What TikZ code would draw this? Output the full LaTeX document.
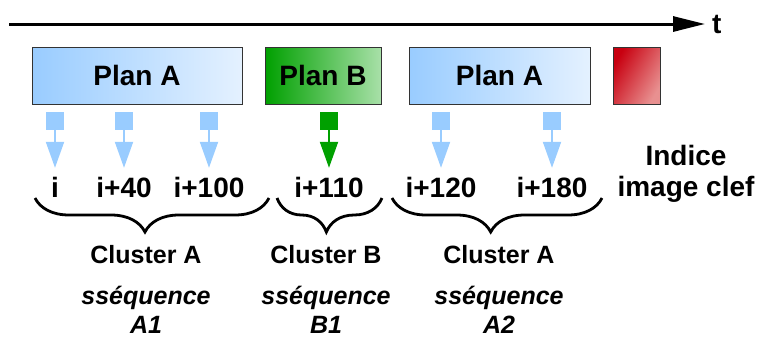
\documentclass[tikz,border=0pt]{standalone}
\usepackage{fontspec}
\setmainfont{Liberation Sans}
\usetikzlibrary{arrows.meta,decorations.pathreplacing}
\definecolor{planblue}{HTML}{99CCFF}
\definecolor{planbluelight}{HTML}{E4F1FF}
\definecolor{plangreen}{HTML}{00A000}
\definecolor{plangreenlight}{HTML}{A8E0A8}
\definecolor{keyred}{HTML}{C80010}
\definecolor{keyredlight}{HTML}{E89090}
\begin{document}
\begin{tikzpicture}[
    x=1pt, y=-1pt,
    every node/.style={font=\bfseries\fontsize{28}{31}\selectfont},
    plan/.style={draw=black!80, line width=1pt, minimum height=57pt, inner sep=0pt},
    marker/.style={minimum size=18pt, inner sep=0pt},
    framenum/.style={text height=20pt, text depth=0pt, inner sep=0pt, anchor=base},
    cluster/.style={font=\bfseries\fontsize{25}{29}\selectfont, anchor=base},
    seqtext/.style={font=\bfseries\itshape\fontsize{25}{29}\selectfont, align=center, anchor=base, inner sep=1pt},
    brace/.style={decorate, decoration={brace, mirror, amplitude=34pt, aspect=#1}, line width=2.8pt},
    brace/.default=0.47,
    >={Triangle[width=18pt,length=26pt]}
  ]
  \useasboundingbox (0,0) rectangle (760,338);
  \coordinate (t0) at (9,24);
  \node[anchor=base west, inner sep=0pt] (t) at (712,33) {t};
  \draw[-{Triangle[width=15pt,length=32pt]}, line width=3pt, shorten >=7pt] (t0) -- (t0 -| t.west);
  \node[plan, minimum width=210pt, left color=planblue, right color=planbluelight] (planA1) at (137,75.5) {Plan A};
  \node[plan, minimum width=116pt, left color=plangreen, right color=plangreenlight] (planB) at (323,75.5) {Plan B};
  \node[plan, minimum width=181pt, left color=planblue, right color=planbluelight] (planA2) at (499.5,75.5) {Plan A};
  \node[plan, minimum width=47pt, left color=keyred, right color=keyredlight, shading angle=60] (key) at (636.5,75.5) {};
  \foreach \n/\x/\t in {1/55/i, 2/124/i+40, 3/209/i+100, 5/441/i+120, 6/552/i+180} {
    \node[marker, fill=planblue] (m\n) at (\x,121) {};
    \node[framenum] (f\n) at (\x,197) {\t};
    \draw[->, planblue, line width=2pt, shorten >=9pt] (m\n) -- (f\n);
  }
  \node[marker, fill=plangreen] (m4) at (329,121) {};
  \node[framenum] (f4) at (329,197) {i+110};
  \draw[->, plangreen, line width=2pt, shorten >=9pt] (m4) -- (f4);
  \node[align=center, anchor=base] (idx) at (686,196) {Indice\\image clef};
  \coordinate (b1a) at (35,198);
  \coordinate (b1b) at (269,198);
  \coordinate (b2a) at (277,198);
  \coordinate (b2b) at (382,198);
  \coordinate (b3a) at (392,198);
  \coordinate (b3b) at (602,198);
  \draw[brace] (b1a) -- (b1b);
  \draw[brace] (b2a) -- (b2b);
  \draw[brace] (b3a) -- (b3b);
  \node[cluster] (cl1) at (146,263) {Cluster A};
  \node[cluster] (cl2) at (326,263) {Cluster B};
  \node[cluster] (cl3) at (499,263) {Cluster A};
  \node[seqtext] (sq1) at (146,333) {sséquence\\A1};
  \node[seqtext] (sq2) at (326,333) {sséquence\\B1};
  \node[seqtext] (sq3) at (499,333) {sséquence\\A2};
\end{tikzpicture}
\end{document}
